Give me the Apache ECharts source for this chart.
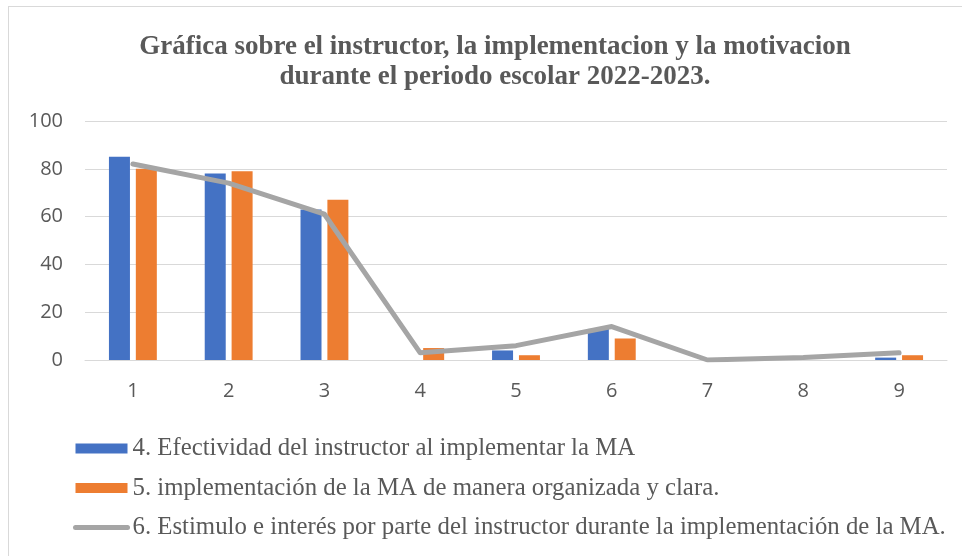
<!DOCTYPE html>
<html>
<head>
<meta charset="utf-8">
<script src="https://cdn.jsdelivr.net/npm/echarts@6/dist/echarts.min.js"></script>
<style>
  html, body { margin: 0; padding: 0; background: #fff; }
  #chart { width: 962px; height: 556px; }
  #frame { position: absolute; left: 8px; top: 6px; width: 1000px; height: 600px;
           border-left: 1px solid #d9d9d9; border-top: 1px solid #d9d9d9; pointer-events: none; }
</style>
</head>
<body>
<div id="chart"></div>
<div id="frame"></div>
<script>
const categories = ['1', '2', '3', '4', '5', '6', '7', '8', '9']
const efectividad = [85, 78, 63, 0, 4, 13, 0, 0, 1]
const implementacion = [80, 79, 67, 5, 2, 9, 0, 0, 2]
const estimulo = [82, 74, 61, 3, 6, 14, 0, 1, 3]
const yTicks = [0, 20, 40, 60, 80, 100]

const names = [
    '4. Efectividad del instructor al implementar la MA',
    '5. implementación de la MA de manera organizada y clara.',
    '6. Estimulo e interés por parte del instructor durante la implementación de la MA.'
]

const chart = echarts.init(document.getElementById('chart'))
chart.setOption({
    animation: false,
    title: {
        text: 'Gráfica sobre el instructor, la implementacion y la motivacion\ndurante el periodo escolar 2022-2023.',
        left: 490,
        textAlign: 'center',
        top: 27,
        textStyle: {
            fontFamily: 'Liberation Serif',
            fontWeight: 'bold',
            fontSize: 27,
            lineHeight: 30,
            color: '#595959'
        }
    },
    legend: {
        orient: 'vertical',
        left: 68,
        top: 431,
        itemWidth: 52,
        itemHeight: 10,
        itemGap: 14.5,
        textStyle: { fontFamily: 'Liberation Serif', fontSize: 24.8, color: '#595959' },
        data: [
            { name: names[0], icon: 'rect' },
            { name: names[1], icon: 'rect' },
            { name: names[2], itemStyle: { opacity: 0 }, lineStyle: { width: 5, cap: 'round' } }
        ]
    },
    grid: { left: 85, right: 15, top: 121, bottom: 196 },
    xAxis: {
        type: 'category',
        data: categories,
        axisTick: { show: false },
        axisLine: { lineStyle: { color: '#d9d9d9', width: 1 } },
        axisLabel: { fontFamily: 'Open Sans', fontSize: 20, color: '#595959', margin: 21 }
    },
    yAxis: {
        type: 'value',
        min: yTicks[0],
        max: yTicks[yTicks.length - 1],
        interval: 20,
        axisLine: { show: false },
        axisTick: { show: false },
        splitLine: { lineStyle: { color: '#d9d9d9', width: 1 } },
        axisLabel: { fontFamily: 'Open Sans', fontSize: 20, color: '#595959', margin: 22 }
    },
    series: [
        {
            name: names[0],
            type: 'bar',
            data: efectividad,
            barWidth: 21,
            barGap: '28%',
            itemStyle: { color: '#4472c4' }
        },
        {
            name: names[1],
            type: 'bar',
            data: implementacion,
            barWidth: 21,
            barGap: '28%',
            itemStyle: { color: '#ed7d31' }
        },
        {
            name: names[2],
            type: 'line',
            data: estimulo,
            symbol: 'none',
            lineStyle: { color: '#a5a5a5', width: 5, cap: 'round', join: 'round' },
            itemStyle: { color: '#a5a5a5' }
        }
    ]
})
</script>
</body>
</html>
